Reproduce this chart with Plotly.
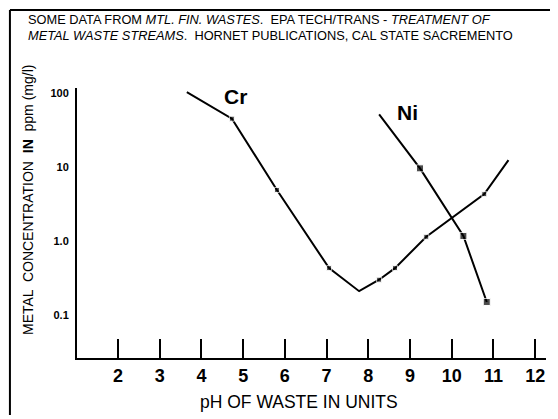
import plotly.graph_objects as go

# Data (pH vs concentration in mg/l)
cr_ph = [3.65, 4.73, 5.81, 7.06, 7.78, 8.26, 8.64, 9.39, 10.78, 11.36]
cr_conc = [103, 45, 4.9, 0.43, 0.21, 0.30, 0.43, 1.14, 4.3, 12.4]
cr_marked = [False, True, True, True, False, True, True, True, True, False]

ni_ph = [8.26, 9.24, 10.28, 10.84]
ni_conc = [51.5, 9.6, 1.17, 0.15]
ni_marked = [False, True, True, True]

x_ticks = [2, 3, 4, 5, 6, 7, 8, 9, 10, 11, 12]
y_ticks = [0.1, 1, 10, 100]
y_tick_labels = ["0.1", "1.0", "10", "100"]

FONT = "Liberation Sans, Arial, sans-serif"

fig = go.Figure()
fig.add_trace(go.Scatter(
    x=cr_ph, y=cr_conc, mode="lines+markers",
    line=dict(color="black", width=2),
    marker=dict(symbol="square", color="black",
                size=[5 if m else 0 for m in cr_marked]),
    showlegend=False, hoverinfo="skip"))
fig.add_trace(go.Scatter(
    x=ni_ph, y=ni_conc, mode="lines+markers",
    line=dict(color="black", width=2),
    marker=dict(symbol="square", color="black",
                size=[7 if m else 0 for m in ni_marked]),
    showlegend=False, hoverinfo="skip"))

fig.add_annotation(x=4.81, y=1.95, xref="x", yref="y", text="<b>Cr</b>",
                   showarrow=False, font=dict(family=FONT, size=21, color="black"))
fig.add_annotation(x=8.95, y=1.74, xref="x", yref="y", text="<b>Ni</b>",
                   showarrow=False, font=dict(family=FONT, size=21, color="black"))

# Title text
fig.add_annotation(
    x=-0.109, y=1.252, xref="paper", yref="paper", xanchor="left", yanchor="middle",
    text="SOME DATA FROM <i>MTL. FIN. WASTES</i>.  EPA TECH/TRANS - <i>TREATMENT OF</i>",
    showarrow=False, font=dict(family=FONT, size=12.8, color="black"))
fig.add_annotation(
    x=-0.109, y=1.196, xref="paper", yref="paper", xanchor="left", yanchor="middle",
    text="<i>METAL WASTE STREAMS</i>.  HORNET PUBLICATIONS, CAL STATE SACREMENTO",
    showarrow=False, font=dict(family=FONT, size=12.8, color="black"))

# Axis titles
fig.add_annotation(
    x=(28 - 77) / 469, y=(358 - 200) / 270, xref="paper", yref="paper",
    xanchor="center", yanchor="middle", textangle=-90,
    text="METAL  CONCENTRATION  <b>IN</b>  ppm (mg/l)",
    showarrow=False, font=dict(family=FONT, size=14, color="black"))
fig.add_annotation(
    x=(299 - 77) / 469, y=(358 - 402) / 270, xref="paper", yref="paper",
    xanchor="center", yanchor="middle",
    text="pH OF WASTE IN UNITS",
    showarrow=False, font=dict(family=FONT, size=17.5, color="black"))

# Frame lines (left and top)
fig.add_shape(type="line", xref="paper", yref="paper",
              x0=-0.143, x1=-0.143, y0=-0.211, y1=1.289,
              line=dict(color="black", width=2))
fig.add_shape(type="line", xref="paper", yref="paper",
              x0=-0.143, x1=1.015, y0=1.289, y1=1.289,
              line=dict(color="black", width=2))

fig.update_xaxes(
    range=[1.017, 12.26], showgrid=False, zeroline=False,
    showline=True, linecolor="black", linewidth=2,
    tickmode="array", tickvals=x_ticks, ticktext=[str(t) for t in x_ticks],
    ticks="inside", ticklen=19, tickwidth=2, tickcolor="black",
    ticklabelstandoff=0,
    tickfont=dict(family=FONT, size=18, color="black", weight="bold"))
fig.update_yaxes(
    type="log", range=[-1.581, 2.068], showgrid=False, zeroline=False,
    showline=True, linecolor="black", linewidth=2,
    tickmode="array", tickvals=y_ticks, ticktext=y_tick_labels,
    ticks="", ticklabelstandoff=4,
    tickfont=dict(family=FONT, size=11, color="black", weight="bold"))

# The page body has an 8px margin, so the figure is sized/placed to compensate
fig.update_layout(
    width=550, height=411,
    margin=dict(l=69, r=12, t=80, b=61),
    paper_bgcolor="white", plot_bgcolor="white",
    font=dict(family=FONT, color="black"))

fig.write_html("out.html")
